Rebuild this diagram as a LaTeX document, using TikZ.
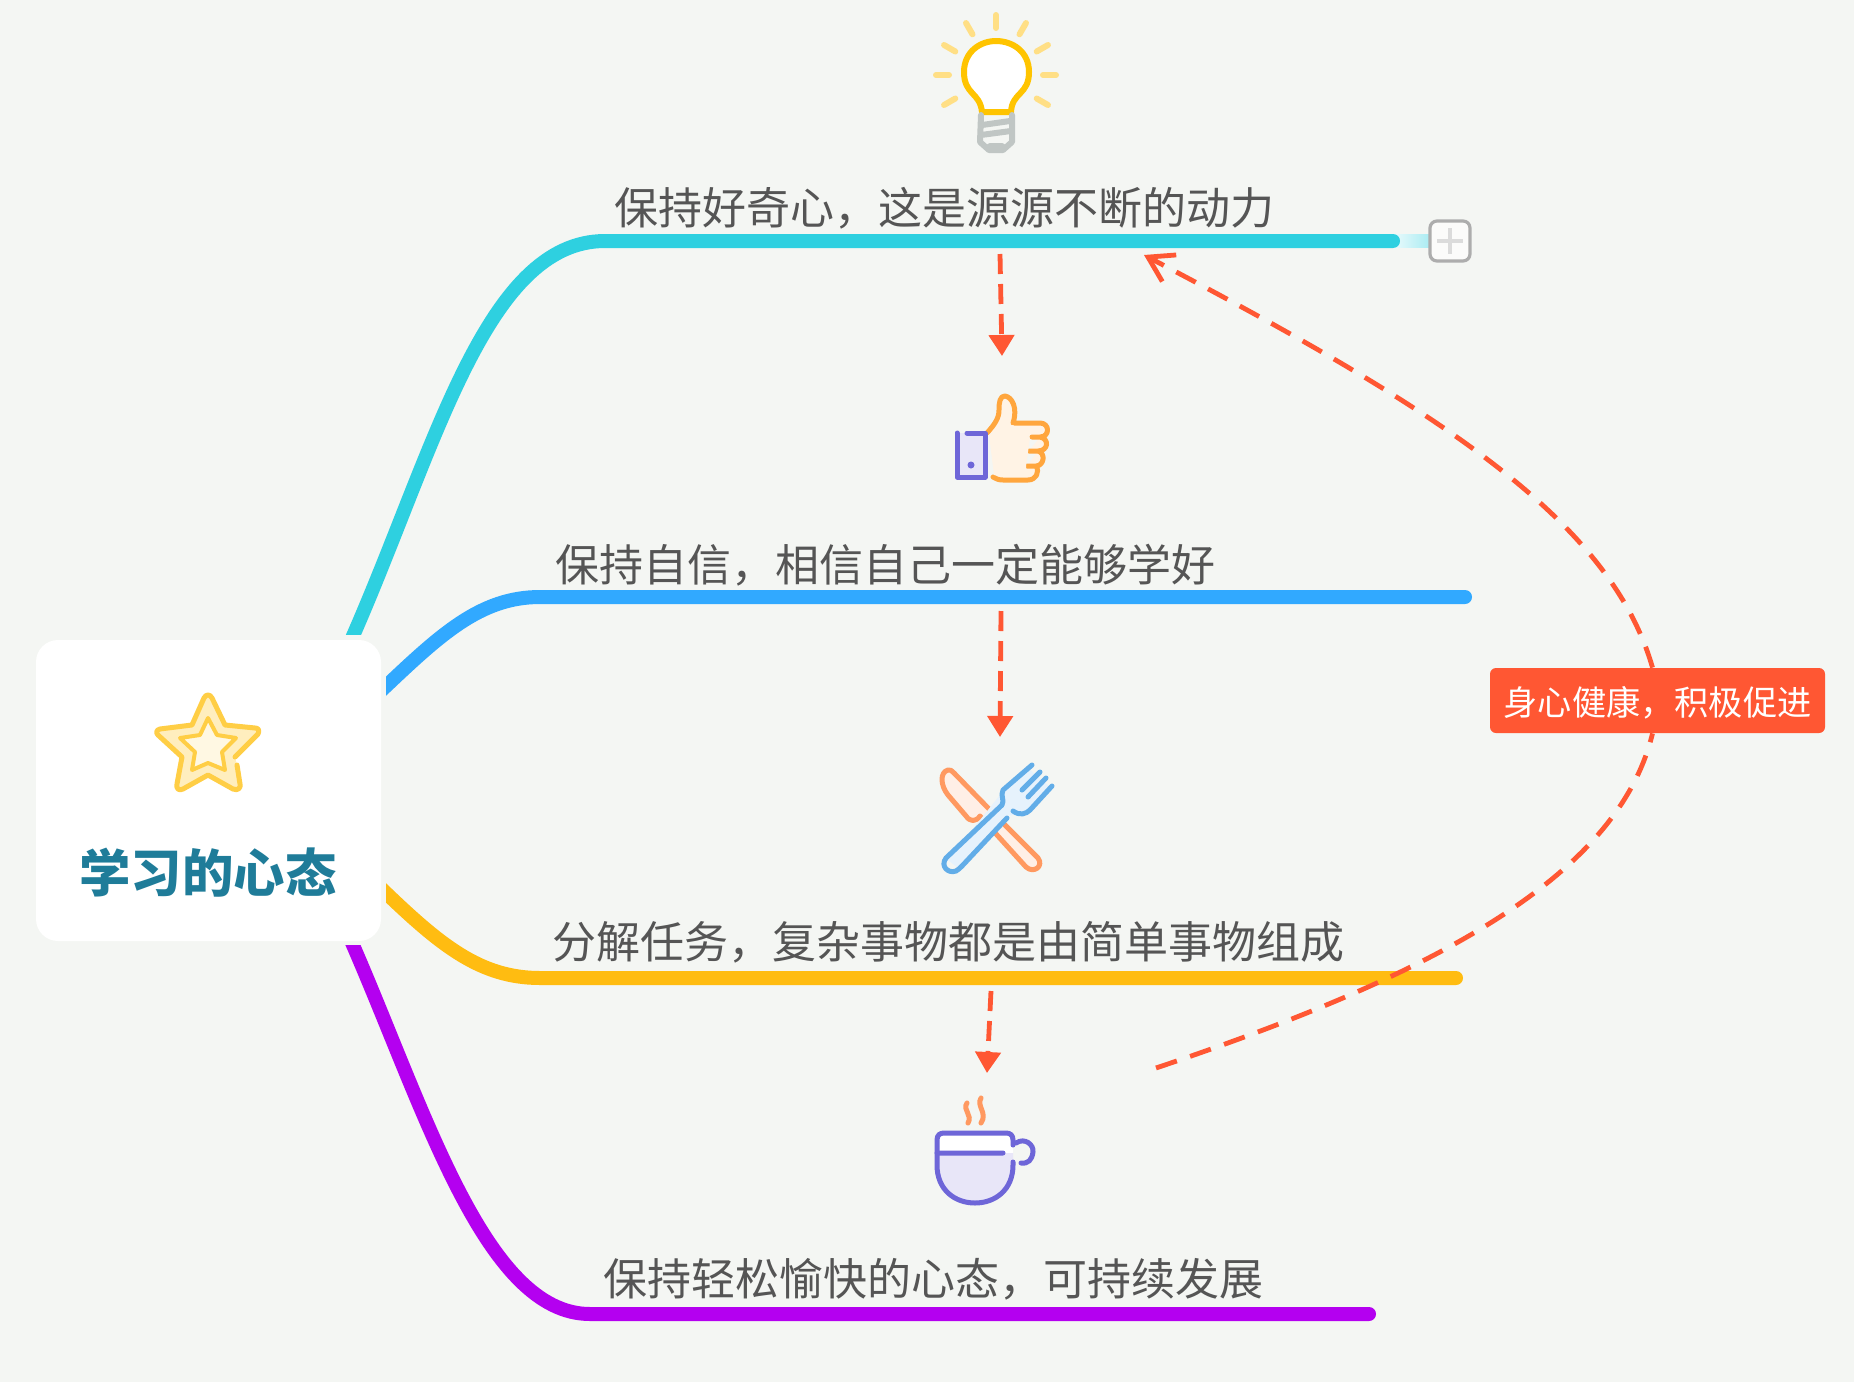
\documentclass[tikz,border=0pt]{standalone}
\usepackage{fontspec}
\setmainfont{Noto Sans CJK SC}
\usepackage{tikz}
\usetikzlibrary{arrows.meta, backgrounds}

\definecolor{pagebg}{HTML}{F4F6F3}
\definecolor{topicgray}{HTML}{555555}
\definecolor{rootblue}{HTML}{1F7C99}
\definecolor{notered}{HTML}{FF5733}
\definecolor{tealline}{HTML}{2ED0E0}
\definecolor{blueline}{HTML}{31A9FF}
\definecolor{yellowline}{HTML}{FFBC11}
\definecolor{purpleline}{HTML}{B400F0}
\definecolor{bulbyellow}{HTML}{FFC400}
\definecolor{rayyellow}{HTML}{FFDF85}
\definecolor{screwgray}{HTML}{C0C6C4}
\definecolor{stargold}{HTML}{FFCE45}
\definecolor{inkviolet}{HTML}{6E66D8}
\definecolor{paleviolet}{HTML}{E8E6F8}
\definecolor{handorange}{HTML}{FFA63D}
\definecolor{handfill}{HTML}{FFF3E5}
\definecolor{knifeorange}{HTML}{FF9960}
\definecolor{knifefill}{HTML}{FFEFE6}
\definecolor{forkblue}{HTML}{62ADE8}
\definecolor{forkfill}{HTML}{E6F2FC}

\begin{document}
\begin{tikzpicture}[
      x=0.5pt, y=-0.5pt,
      rootbox/.style={fill=white, rounded corners=11pt, inner sep=0pt,
                      minimum width=172.5pt, minimum height=150.5pt},
      roottitle/.style={font=\fontsize{25.7}{30}\selectfont\bfseries,
                        text=rootblue, inner sep=0pt},
      topic/.style={font=\fontsize{22}{26}\selectfont,
                    text=topicgray, inner sep=0pt},
      notebox/.style={fill=notered, text=white, rounded corners=3pt,
                      minimum width=167.5pt, minimum height=32.5pt, inner sep=0pt,
                      text height=16pt, text depth=1pt,
                      font=\fontsize{17.1}{20}\selectfont},
      plusbox/.style={draw=black!32, fill=white!60!pagebg, line width=1.6pt,
                      rounded corners=3.5pt, minimum size=20pt, inner sep=0pt},
      branch/.style={line width=7pt, line cap=round},
      nextstep/.style={draw=notered, line width=2.4pt, dash pattern=on 10pt off 5pt,
                       -{Triangle[length=10.5pt, width=12.5pt]}},
      feedback/.style={draw=notered, line width=2.4pt, dash pattern=on 11pt off 7pt},
      icon/.style={line width=2.5pt, line cap=round, line join=round}
    ]
    \useasboundingbox (0,0) rectangle (1854,1382);

    \node[rootbox] (root) at (208.5,790.5) {};
    \node[roottitle] (title) at (208,873) {学习的心态};

    \coordinate (curiousL) at (605,241);
    \coordinate (curiousR) at (1393,241);
    \coordinate (confidentL) at (540,597);
    \coordinate (confidentR) at (1465,597);
    \coordinate (splitL) at (540,978);
    \coordinate (splitR) at (1456,978);
    \coordinate (relaxL) at (590,1314);
    \coordinate (relaxR) at (1369,1314);

    \begin{scope}[on background layer]
      \fill[pagebg] (0,0) rectangle (1854,1382);
      \draw[branch, tealline] ([xshift=-15pt]root.north east)
            .. controls (435,450) and (485,241) .. (curiousL) -- (curiousR);
      \draw[branch, blueline] ([yshift=50pt]root.east)
            .. controls (440,635) and (480,597) .. (confidentL) -- (confidentR);
      \draw[branch, yellowline] ([yshift=-49pt]root.east)
            .. controls (440,945) and (480,978) .. (splitL) -- (splitR);
      \draw[branch, purpleline] ([xshift=-15pt]root.south east)
            .. controls (425,1110) and (485,1314) .. (relaxL) -- (relaxR);
      % 根节点四周留一圈空隙
      \fill[pagebg] (36,635) rectangle (386,945);
    \end{scope}

    \node[topic] (curious) at (944,208) {保持好奇心，这是源源不断的动力};
    \node[topic] (confident) at (885,565) {保持自信，相信自己一定能够学好};
    \node[topic] (split) at (948,942) {分解任务，复杂事物都是由简单事物组成};
    \node[topic] (relax) at (933,1279) {保持轻松愉快的心态，可持续发展};

    \shade[left color=tealline!10!white, right color=tealline!40!white]
          (1393,234.5) rectangle (1429,247.5);
    \draw[branch, tealline] (1380,241) -- (curiousR);
    \node[plusbox] (more) at (1450,241) {};
    \draw[line width=2pt, black!14] (more.center) ++(-13,0) -- ++(26,0)
          (more.center) ++(0,-13) -- ++(0,26);

    % 虚线箭头
    \coordinate (arrowA) at (1000,254);
    \coordinate (arrowB) at (1002,356);
    \coordinate (arrowC) at (1001,611);
    \coordinate (arrowD) at (1000,737);
    \coordinate (arrowE) at (991,991);
    \coordinate (arrowF) at (987,1073);
    \draw[nextstep] (arrowA) -- (arrowB);
    \draw[nextstep] (arrowC) -- (arrowD);
    \draw[nextstep] (arrowE) -- (arrowF);

    \node[notebox] (note) at (1657.5,700.5) {身心健康，积极促进};
    \coordinate (loopstart) at (1156,1068);
    \coordinate (looptip) at (1144,255);
    \draw[feedback] (loopstart) .. controls (1412,982) and (1616,885)
          .. ([xshift=-2.5pt]note.south);
    \draw[feedback, -{Straight Barb[length=12pt, width=15pt]}]
          ([xshift=-2.5pt]note.north) .. controls (1610,520) and (1440,410) .. (looptip);

    % 灯泡
    \foreach \a in {-30,0,...,210}
      \draw[icon, line width=3pt, rayyellow] (996,75) ++(-\a:47) -- ++(-\a:13);
    \draw[icon, line width=3pt, bulbyellow, fill=white] (982,112)
          .. controls (980,92) and (964,95) .. (964,72)
          .. controls (964,52) and (980,41) .. (996,41)
          .. controls (1013,41) and (1029,52) .. (1029,72)
          .. controls (1029,95) and (1012,92) .. (1011,112) -- cycle;
    \draw[icon, line width=3pt, screwgray] (981,115) -- (980,142) -- (989,150) -- (1003,150) -- (1012,142) -- (1012,115)
          (982,125) -- (1010,121) (981,135) -- (1011,131) (990,146) -- (1002,146);

    % 拇指
    \draw[icon, handorange, fill=handfill] (987,433)
          .. controls (995,424) and (999,418) .. (999,410)
          .. controls (999,402) and (1000,396) .. (1005,396)
          .. controls (1012,397) and (1018,408) .. (1013,423)
          -- (1040,423) .. controls (1050,423) and (1050,437) .. (1040,437) -- (1032,437)
          (1040,437) .. controls (1050,439) and (1048,451) .. (1038,451) -- (1029,451)
          (1038,451) .. controls (1046,453) and (1044,466) .. (1036,466) -- (1027,466)
          (1036,466) .. controls (1040,472) and (1036,480) .. (1028,480)
          -- (1003,480) .. controls (999,480) and (996,479) .. (993,477);
    \fill[handfill] (989,435) -- (1013,425) -- (1030,438) -- (1026,466) -- (1026,477) -- (994,475) -- cycle;
    \fill[paleviolet] (957,433) rectangle (985,477);
    \draw[icon, inkviolet] (967,433) -- (985,433) -- (985,477) -- (957,477) -- (957,433);
    \fill[inkviolet] (971,465) circle (3.5);

    % 刀叉
    \draw[icon, knifeorange, fill=knifefill] (980,816)
          .. controls (976,822) and (970,822) .. (966,816)
          -- (948,795) .. controls (940,785) and (940,772) .. (948,770)
          .. controls (950,769) and (952,771) .. (954,773) -- (992,812)
          -- (1038,858) .. controls (1044,866) and (1034,874) .. (1026,867) -- (997,835) -- (980,816);
    \fill[forkfill] (1004,790) -- (1028,768) -- (1050,787) -- (1026,813) -- (1006,816) -- (958,868) -- (948,860) -- cycle;
    \draw[icon, forkblue] (1002,805) -- (946,858)
          .. controls (940,866) and (948,874) .. (956,871)
          .. controls (958,870) and (960,868) .. (962,866) -- (1007,818)
          (1013,811) .. controls (1020,816) and (1026,814) .. (1030,810) -- (1052,786)
          (1002,805) .. controls (1005,800) and (1000,796) .. (1003,790) -- (1032,765)
          (1040,772) -- (1022,790) (1046,778) -- (1028,797);

    % 茶杯
    \draw[icon, knifeorange] (967,1103) .. controls (962,1110) and (973,1115) .. (968,1123)
          (981,1098) .. controls (976,1106) and (988,1113) .. (981,1123);
    \fill[white] (937,1133) rectangle (1013,1153);
    \fill[paleviolet] (937,1153) -- (1013,1153) -- (1013,1165)
          .. controls (1013,1190) and (995,1203) .. (975,1203)
          .. controls (955,1203) and (937,1190) .. (937,1165) -- cycle;
    \draw[icon, inkviolet] (1013,1162) -- (1013,1165)
          .. controls (1013,1190) and (995,1203) .. (975,1203)
          .. controls (955,1203) and (937,1190) .. (937,1165)
          -- (937,1140) .. controls (937,1135) and (940,1133) .. (944,1133)
          -- (1006,1133) .. controls (1010,1133) and (1013,1135) .. (1013,1140) -- (1013,1145);
    \draw[icon, inkviolet] (937,1153) -- (1003,1153)
          (1016,1143) .. controls (1025,1137) and (1034,1145) .. (1033,1152)
          .. controls (1032,1160) and (1028,1164) .. (1021,1163);

    % 星星
    \draw[icon, stargold, fill=stargold!35!white] (235,757) -- (258,734)
          .. controls (260,730) and (258,728) .. (255,728) -- (225,725) -- (212,698)
          .. controls (210,694) and (206,694) .. (204,698) -- (192,725) -- (160,729)
          .. controls (156,730) and (156,733) .. (158,735) -- (182,757) -- (177,784)
          .. controls (176,789) and (179,791) .. (183,789) -- (208,775) -- (233,789)
          .. controls (238,791) and (241,788) .. (240,784) -- (237,765);
    \draw[icon, line width=2pt, stargold, fill=stargold!15!white] (208,718) -- (217,735) -- (236,738)
          -- (222,752) -- (225,770) -- (208,763) -- (192,770) -- (195,752)
          -- (180,738) -- (200,735) -- cycle;
  \end{tikzpicture}
\end{document}
